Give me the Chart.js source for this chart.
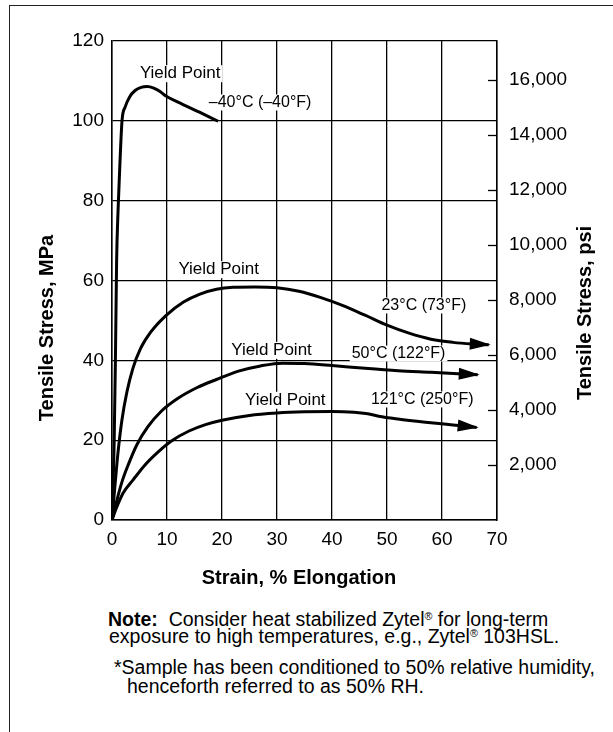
<!DOCTYPE html>
<html>
<head>
<meta charset="utf-8">
<script src="https://cdn.jsdelivr.net/npm/chart.js@4.4.0/dist/chart.umd.min.js"></script>
<style>
  html, body { margin: 0; padding: 0; background: #fff; }
  body { width: 613px; height: 732px; position: relative; overflow: hidden;
         font-family: "Liberation Sans", Arial, Helvetica, sans-serif; color: #000; }
  #frame { position: absolute; left: 9px; top: 5px; right: -5px; bottom: -5px;
           border-top: 1.5px solid #222; border-left: 1.5px solid #222; }
  #wrap { position: absolute; left: 0; top: 0; width: 613px; height: 600px; }
  .note { position: absolute; font-size: 19.5px; line-height: 18.5px; white-space: nowrap; }
  .note sup { font-size: 55%; line-height: 0; vertical-align: 0.6em; }
</style>
</head>
<body>
<div id="frame"></div>
<div id="wrap"><canvas id="stressChart"></canvas></div>
<div class="note" style="left:108px;top:610px;"><b>Note:</b>&nbsp; Consider heat stabilized Zytel<sup>®</sup> for long-term</div>
<div class="note" style="left:109px;top:627px;">exposure to high temperatures, e.g., Zytel<sup>®</sup> 103HSL.</div>
<div class="note" style="left:114px;top:658px;">*Sample has been conditioned to 50% relative humidity,</div>
<div class="note" style="left:127px;top:677px;">henceforth referred to as 50% RH.</div>
<script>
  const FONT = '"Liberation Sans", Arial, Helvetica, sans-serif';
  const MPA_TO_PSI = 145.038;

  // axis ticks
  const strainTicks = [0, 10, 20, 30, 40, 50, 60, 70];
  const stressTicks = [0, 20, 40, 60, 80, 100, 120];
  const psiTicks = [2000, 4000, 6000, 8000, 10000, 12000, 14000, 16000];

  // -40°C curve
  const strainM40 = [0, 0.4, 0.62, 0.84, 1.1, 1.4, 1.82, 2.4, 3.2, 4.2, 5.3, 6.4, 7.6, 8.8, 9.8, 12, 16, 19.3];
  const stressM40 = [0, 20, 40, 65, 77.5, 88, 100, 103.5, 106, 107.6, 108.4, 108.6, 108.2, 107.3, 106.2, 104.7, 102.1, 99.9];

  // 23°C curve
  const strain23 = [0, 0.5, 1.1, 1.8, 2.7, 3.8, 5.2, 7, 9.8, 13, 16, 19, 22, 26, 30, 34, 38, 42, 46, 50, 54, 58, 62, 65.5, 68.5];
  const stress23 = [0, 8, 17, 25, 32, 38, 43, 47, 51.2, 54.6, 56.6, 57.8, 58.3, 58.4, 58.2, 57.3, 55.7, 53.7, 51.3, 48.8, 46.8, 45.3, 44.5, 44.1, 43.9];

  // 50°C curve
  const strain50 = [0, 0.8, 1.8, 3, 4.5, 6.5, 9, 12, 15.5, 19, 23, 27, 31, 35, 40, 46, 52, 58, 66.5];
  const stress50 = [0, 4.5, 9.5, 14, 18.8, 23.3, 27.3, 30.5, 33.2, 35.2, 37.3, 38.6, 39.3, 39.2, 38.7, 38, 37.4, 37, 36.4];

  // 121°C curve
  const strain121 = [0, 0.8, 2, 3.8, 6, 8.5, 10.8, 14, 17, 20, 25, 30, 35, 40, 44, 46.5, 48.5, 52, 57, 62, 66.3];
  const stress121 = [0, 3, 6.7, 10, 13.8, 17.2, 19.8, 22.3, 23.9, 25, 26.2, 26.8, 27.1, 27.2, 27, 26.6, 26, 25.3, 24.5, 23.8, 23.2];

  // text placed on the plot (strain, MPa)
  const curveLabels = [
    { text: 'Yield Point', x: 12.4, y: 111.8, align: 'center', size: 17 },
    { text: '–40°C (–40°F)', x: 17.6, y: 104.6, align: 'left', size: 16 },
    { text: 'Yield Point', x: 19.4, y: 62.7, align: 'center', size: 17 },
    { text: '23°C (73°F)', x: 56.7, y: 53.75, align: 'center', size: 16 },
    { text: 'Yield Point', x: 29.0, y: 42.5, align: 'center', size: 17 },
    { text: '50°C (122°F)', x: 52.1, y: 41.7, align: 'center', size: 16 },
    { text: 'Yield Point', x: 31.5, y: 30, align: 'center', size: 17 },
    { text: '121°C (250°F)', x: 56.4, y: 30.2, align: 'center', size: 16 }
  ];

  function pts(xs, ys) {
    return xs.map((x, i) => ({ x: x, y: ys[i] }));
  }

  function curve(label, xs, ys, arrow) {
    return {
      label: label,
      data: pts(xs, ys),
      borderColor: '#000',
      borderWidth: 3,
      pointRadius: 0,
      fill: false,
      cubicInterpolationMode: 'monotone',
      xAxisID: 'x',
      yAxisID: 'y',
      arrow: arrow
    };
  }

  const decor = {
    id: 'decor',
    beforeDatasetsDraw(chart) {
      const { ctx, scales: { x, y } } = chart;
      ctx.save();
      curveLabels.forEach(l => {
        ctx.font = l.size + 'px ' + FONT;
        const w = ctx.measureText(l.text).width;
        const px = x.getPixelForValue(l.x);
        const py = y.getPixelForValue(l.y);
        const left = l.align === 'left' ? px : px - w / 2;
        ctx.fillStyle = '#fff';
        ctx.fillRect(left - 2, py - l.size * 0.5, w + 4, l.size);
        ctx.fillStyle = '#000';
        ctx.textAlign = 'left';
        ctx.textBaseline = 'middle';
        ctx.fillText(l.text, left, py);
      });
      ctx.restore();
    },
    afterDatasetsDraw(chart) {
      const ctx = chart.ctx;
      ctx.save();
      ctx.fillStyle = '#000';
      chart.data.datasets.forEach((ds, i) => {
        if (!ds.arrow) return;
        const els = chart.getDatasetMeta(i).data;
        const a = els[els.length - 1], b = els[els.length - 2];
        const ang = Math.atan2(a.y - b.y, a.x - b.x);
        const tx = a.x + 2 * Math.cos(ang), ty = a.y + 2 * Math.sin(ang);
        const len = 21, half = 6;
        const bx = tx - len * Math.cos(ang), by = ty - len * Math.sin(ang);
        ctx.beginPath();
        ctx.moveTo(tx, ty);
        ctx.lineTo(bx + half * Math.sin(ang), by - half * Math.cos(ang));
        ctx.lineTo(bx - half * Math.sin(ang), by + half * Math.cos(ang));
        ctx.closePath();
        ctx.fill();
      });
      ctx.restore();
    },
    afterDraw(chart) {
      const { ctx, chartArea, scales: { y1 } } = chart;
      ctx.save();
      // short psi ticks inside the right border
      ctx.strokeStyle = '#000';
      ctx.lineWidth = 1.3;
      psiTicks.forEach(v => {
        const py = Math.round(y1.getPixelForValue(v)) + 0.5;
        ctx.beginPath();
        ctx.moveTo(chartArea.right - 9, py);
        ctx.lineTo(chartArea.right, py);
        ctx.stroke();
      });
      // axis titles
      ctx.fillStyle = '#000';
      ctx.font = 'bold 20px ' + FONT;
      ctx.textAlign = 'center';
      ctx.textBaseline = 'middle';
      ctx.fillText('Strain, % Elongation', 299, 578);
      ctx.save();
      ctx.translate(47, 328);
      ctx.rotate(-Math.PI / 2);
      ctx.fillText('Tensile Stress, MPa', 0, 0);
      ctx.restore();
      ctx.translate(585, 313);
      ctx.rotate(-Math.PI / 2);
      ctx.fillText('Tensile Stress, psi', 0, 0);
      ctx.restore();
    }
  };

  const ctx = document.getElementById('stressChart').getContext('2d');
  const stressChart = new Chart(ctx, {
    type: 'line',
    data: {
      datasets: [
        curve('-40°C', strainM40, stressM40, false),
        curve('23°C', strain23, stress23, true),
        curve('50°C', strain50, stress50, true),
        curve('121°C', strain121, stress121, true)
      ]
    },
    plugins: [decor],
    options: {
      responsive: true,
      maintainAspectRatio: false,
      animation: false,
      layout: { padding: { left: 35, right: 0, top: 41, bottom: 10 } },
      plugins: {
        legend: { display: false },
        tooltip: { enabled: false }
      },
      scales: {
        x: {
          type: 'linear',
          min: 0,
          max: 70,
          afterBuildTicks: s => { s.ticks = strainTicks.map(v => ({ value: v })); },
          ticks: { font: { family: FONT, size: 19 }, color: '#000', padding: 8, maxRotation: 0, autoSkip: false },
          grid: { color: '#000', lineWidth: 1.3, drawTicks: false },
          border: { display: true, color: '#000', width: 1.5 },
          afterFit: s => { s.height = 70; }
        },
        y: {
          type: 'linear',
          position: 'left',
          min: 0,
          max: 120,
          afterBuildTicks: s => { s.ticks = stressTicks.map(v => ({ value: v })); },
          ticks: { font: { family: FONT, size: 19 }, color: '#000', padding: 8 },
          grid: { color: '#000', lineWidth: 1.3, drawTicks: false },
          border: { display: true, color: '#000', width: 1.5 },
          afterFit: s => { s.width = 77; }
        },
        y1: {
          type: 'linear',
          position: 'right',
          min: 0,
          max: 120 * MPA_TO_PSI,
          afterBuildTicks: s => { s.ticks = psiTicks.map(v => ({ value: v })); },
          ticks: {
            font: { family: FONT, size: 19 },
            color: '#000',
            padding: 12,
            callback: v => v.toLocaleString('en-US')
          },
          grid: { drawOnChartArea: false, drawTicks: false },
          border: { display: true, color: '#000', width: 1.5 },
          afterFit: s => { s.width = 116; }
        }
      }
    }
  });
</script>
</body>
</html>
